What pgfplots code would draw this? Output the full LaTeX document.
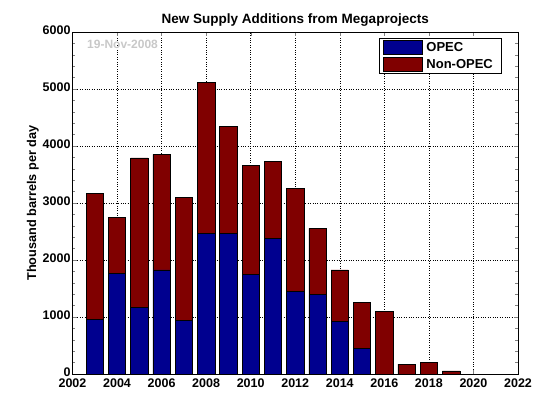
\documentclass[border=0pt]{standalone}
\usepackage{pgfplots}
\pgfplotsset{compat=1.18}
\usepackage{fontspec}
\setmainfont{Liberation Sans}
\definecolor{opec}{RGB}{0,0,143}
\definecolor{nonopec}{RGB}{128,0,0}
\definecolor{dategray}{RGB}{200,200,200}
\begin{document}
\begin{tikzpicture}[x=1pt,y=1pt]
\path[use as bounding box] (0,0) rectangle (560,420);
\begin{axis}[
  at={(72.5pt,46pt)}, anchor=south west,
  scale only axis, width=445.5pt, height=342pt,
  xmin=2002, xmax=2022, ymin=0, ymax=6000,
  ybar stacked, bar width=0.78,
  xtick={2002,2004,...,2022}, ytick={0,1000,...,6000},
  minor x tick num=1, minor y tick num=4,
  tick align=inside, xtick pos=both, ytick pos=both,
  grid=major, major grid style={black, dotted, line width=0.6pt},
  /pgf/number format/1000 sep={},
  /pgf/number format/assume math mode=true,
  ticklabel style={font=\bfseries\fontsize{12.5}{14}\selectfont},
  xticklabel style={yshift=-1.5pt},
  yticklabel style={xshift=1.5pt, yshift=2pt},
  title={\bfseries New Supply Additions from Megaprojects},
  title style={font=\fontsize{13.5}{15}\selectfont, yshift=-4pt},
  ylabel={\bfseries Thousand barrels per day},
  ylabel style={font=\fontsize{12.7}{14}\selectfont, yshift=-3pt},
  axis line style={black},
  legend style={at={(0.962,0.982)}, anchor=north east, draw=black,
    font=\bfseries\fontsize{13}{15}\selectfont, legend cell align=left,
    inner xsep=4pt, inner ysep=2pt, row sep=2pt,
    nodes={inner xsep=4pt}},
  legend image code/.code={\draw[#1,draw=black] (0pt,-7pt) rectangle (39pt,7pt);},
]
\addplot[fill=opec, draw=black, line width=0.6pt] coordinates {
(2003,960) (2004,1767) (2005,1170) (2006,1825) (2007,942) (2008,2468)
(2009,2468) (2010,1749) (2011,2380) (2012,1450) (2013,1398) (2014,924)
(2015,450) (2016,0) (2017,0) (2018,0) (2019,0)};
\addplot[fill=nonopec, draw=black, line width=0.6pt] coordinates {
(2003,2210) (2004,983) (2005,2620) (2006,2029) (2007,2158) (2008,2649)
(2009,1877) (2010,1912) (2011,1351) (2012,1807) (2013,1158) (2014,901)
(2015,807) (2016,1105) (2017,175) (2018,199) (2019,53)};
\legend{OPEC, Non-OPEC}
\node[anchor=west, text=dategray, font=\bfseries\fontsize{12}{13}\selectfont] at (axis cs:2002.5,5790) {19-Nov-2008};
\end{axis}
\end{tikzpicture}
\end{document}
